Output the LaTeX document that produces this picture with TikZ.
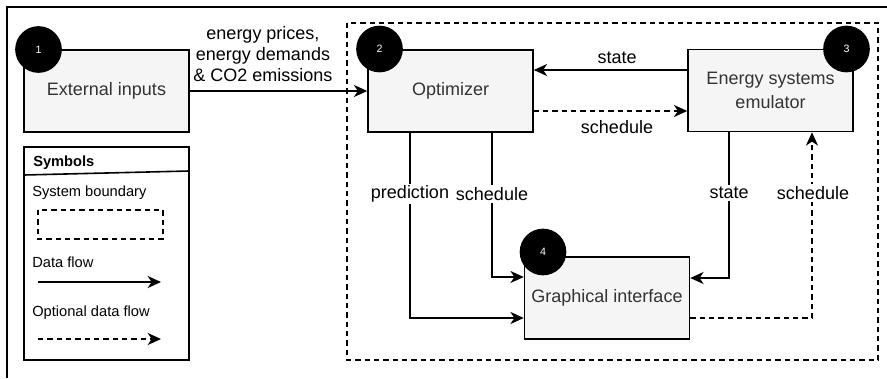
\documentclass[tikz,border=0pt]{standalone}
\usepackage{fontspec}
\setmainfont{Liberation Sans}
\usetikzlibrary{arrows.meta}

\begin{document}
\begin{tikzpicture}[x=0.75pt,y=-0.75pt,draw/.append style={black},
    box/.style={draw=black!60,fill=black!4,line width=1.1pt,minimum width=123.75pt,
        minimum height=61.5pt,inner sep=0pt,align=center,text=black!80,
        font=\fontsize{13.5}{18}\selectfont},
    num/.style={circle,fill=black,minimum size=35pt,inner sep=0pt,text=white,
        font=\fontsize{8}{9}\selectfont},
    lbl/.style={font=\fontsize{13.5}{15.75}\selectfont,inner sep=1.5pt},
    flow/.style={line width=1.5pt,-{Stealth[length=10pt,width=9pt,inset=3pt]}},
    optflow/.style={flow,dash pattern=on 4pt off 3pt},
    leg/.style={font=\fontsize{11}{13}\selectfont,anchor=west,inner sep=0pt}]
    \useasboundingbox (0,0) rectangle (887,378);
    \draw[line width=1.5pt] (887,7)--(7,7)--(7,378);
    % system boundary
    \draw[line width=1.1pt,dash pattern=on 4pt off 3pt] (347,23) rectangle (878,360);
    \node[box] (ext) at (106.5,91) {External inputs};
    \node[box] (opt) at (450.5,91) {Optimizer};
    \node[box] (emu) at (770.5,90.5) {Energy systems\\emulator};
    \node[box] (gui) at (607,298) {Graphical interface};
    \node[num] (n1) at (38.5,49.5) {1};
    \node[num] (n2) at (379.5,49) {2};
    \node[num] (n3) at (846.5,49) {3};
    \node[num] (n4) at (543,252) {4};
    \draw[flow] (ext) -- (opt);
    \draw[flow] (emu.west |- 0,70) -- (opt.east |- 0,70);
    \draw[optflow] (opt.east |- 0,111) -- (emu.west |- 0,111);
    \draw[flow] (opt.south -| 410,0) |- (gui.west |- 0,318);
    \draw[flow] (opt.south -| 492,0) |- (gui.west |- 0,277);
    \draw[flow] (emu.south -| 729,0) |- (gui.east |- 0,278);
    \draw[optflow] (gui.east |- 0,318) -| (emu.south -| 812,0);
    \node[lbl,align=center] (inputs) at (263,54) {energy prices,\\energy demands\\\& CO2 emissions};
    \node[lbl] (st1) at (617,58) {state};
    \node[lbl] (sc1) at (617,127) {schedule};
    \node[lbl,fill=white] (pred) at (410,194) {prediction};
    \node[lbl,fill=white] (sc2) at (492,194) {schedule};
    \node[lbl,fill=white] (st2) at (729,193) {state};
    \node[lbl,fill=white] (sc3) at (813,193) {schedule};
    % legend
    \draw[line width=1.5pt] (24,147) rectangle (189,360);
    \draw[line width=1.2pt] (24,175) -- (189,171);
    \node[leg,font=\bfseries\fontsize{11}{13}\selectfont] (symb) at (33,163) {Symbols};
    \node[leg] (sysb) at (32,193) {System boundary};
    \draw[line width=1.1pt,dash pattern=on 4pt off 3pt] (38,210) rectangle (163,239);
    \node[leg] (dflow) at (32,262) {Data flow};
    \draw[flow] (38,282) -- (161,282);
    \node[leg] (oflow) at (32,313) {Optional data flow};
    \draw[optflow] (38,339) -- (161,339);
\end{tikzpicture}
\end{document}
